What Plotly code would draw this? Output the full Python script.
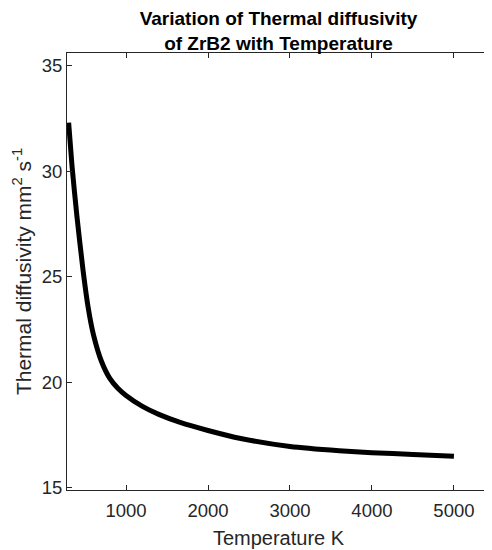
import plotly.graph_objects as go

temperature_K = [300, 340, 400, 476, 540, 600, 700, 800, 900, 1000, 1200, 1400, 1660,
                 2000, 2400, 3000, 3600, 4000, 4500, 5000]
diffusivity = [32.3, 30.3, 27.9, 25.3, 23.5, 22.3, 21.0, 20.2, 19.72, 19.38, 18.86, 18.48,
               18.1, 17.72, 17.34, 16.96, 16.76, 16.67, 16.58, 16.5]

x_ticks = [1000, 2000, 3000, 4000, 5000]
y_ticks = [15, 20, 25, 30, 35]

FONT = "Liberation Sans, Arial, Helvetica"

# page body has an ~8px default margin; size the figure so the axes box lands
# at x 67..490, y 53..490 in the 492x550 window
fig = go.Figure()
fig.add_trace(go.Scatter(
    x=temperature_K, y=diffusivity, mode="lines",
    line=dict(color="black", width=5, shape="spline", smoothing=0.6),
    showlegend=False, hoverinfo="skip"))

axis_common = dict(
    showline=True, linecolor="#262626", linewidth=1, mirror="ticks",
    ticks="inside", ticklen=5, tickcolor="#262626", tickwidth=1,
    showgrid=False, zeroline=False, automargin=False,
    tickfont=dict(family=FONT, size=18.5, color="#262626"),
)

W, H = 484, 542
L, R, T, B = 59, 2, 45, 60

fig.update_layout(
    width=W, height=H,
    margin=dict(l=L, r=R, t=T, b=B),
    paper_bgcolor="white", plot_bgcolor="white",
    title=dict(
        text="Variation of Thermal diffusivity<br>of ZrB2 with Temperature",
        x=(L + W - R) / 2 / W, xanchor="center",
        yref="paper", y=1, yanchor="bottom", pad=dict(b=28),
        font=dict(family=FONT, size=19, color="black", weight="bold"),
    ),
    xaxis=dict(range=[280, 5440], tickvals=x_ticks, ticklabelstandoff=4,
               title=dict(text="Temperature K", standoff=10,
                          font=dict(family=FONT, size=20, color="#262626")),
               **axis_common),
    yaxis=dict(range=[14.9, 35.6], tickvals=y_ticks,
               title=dict(text="Thermal diffusivity mm<sup>2</sup> s<sup>-1</sup>", standoff=4,
                          font=dict(family=FONT, size=21, color="#262626")),
               **axis_common),
)

fig.write_html("out.html")
